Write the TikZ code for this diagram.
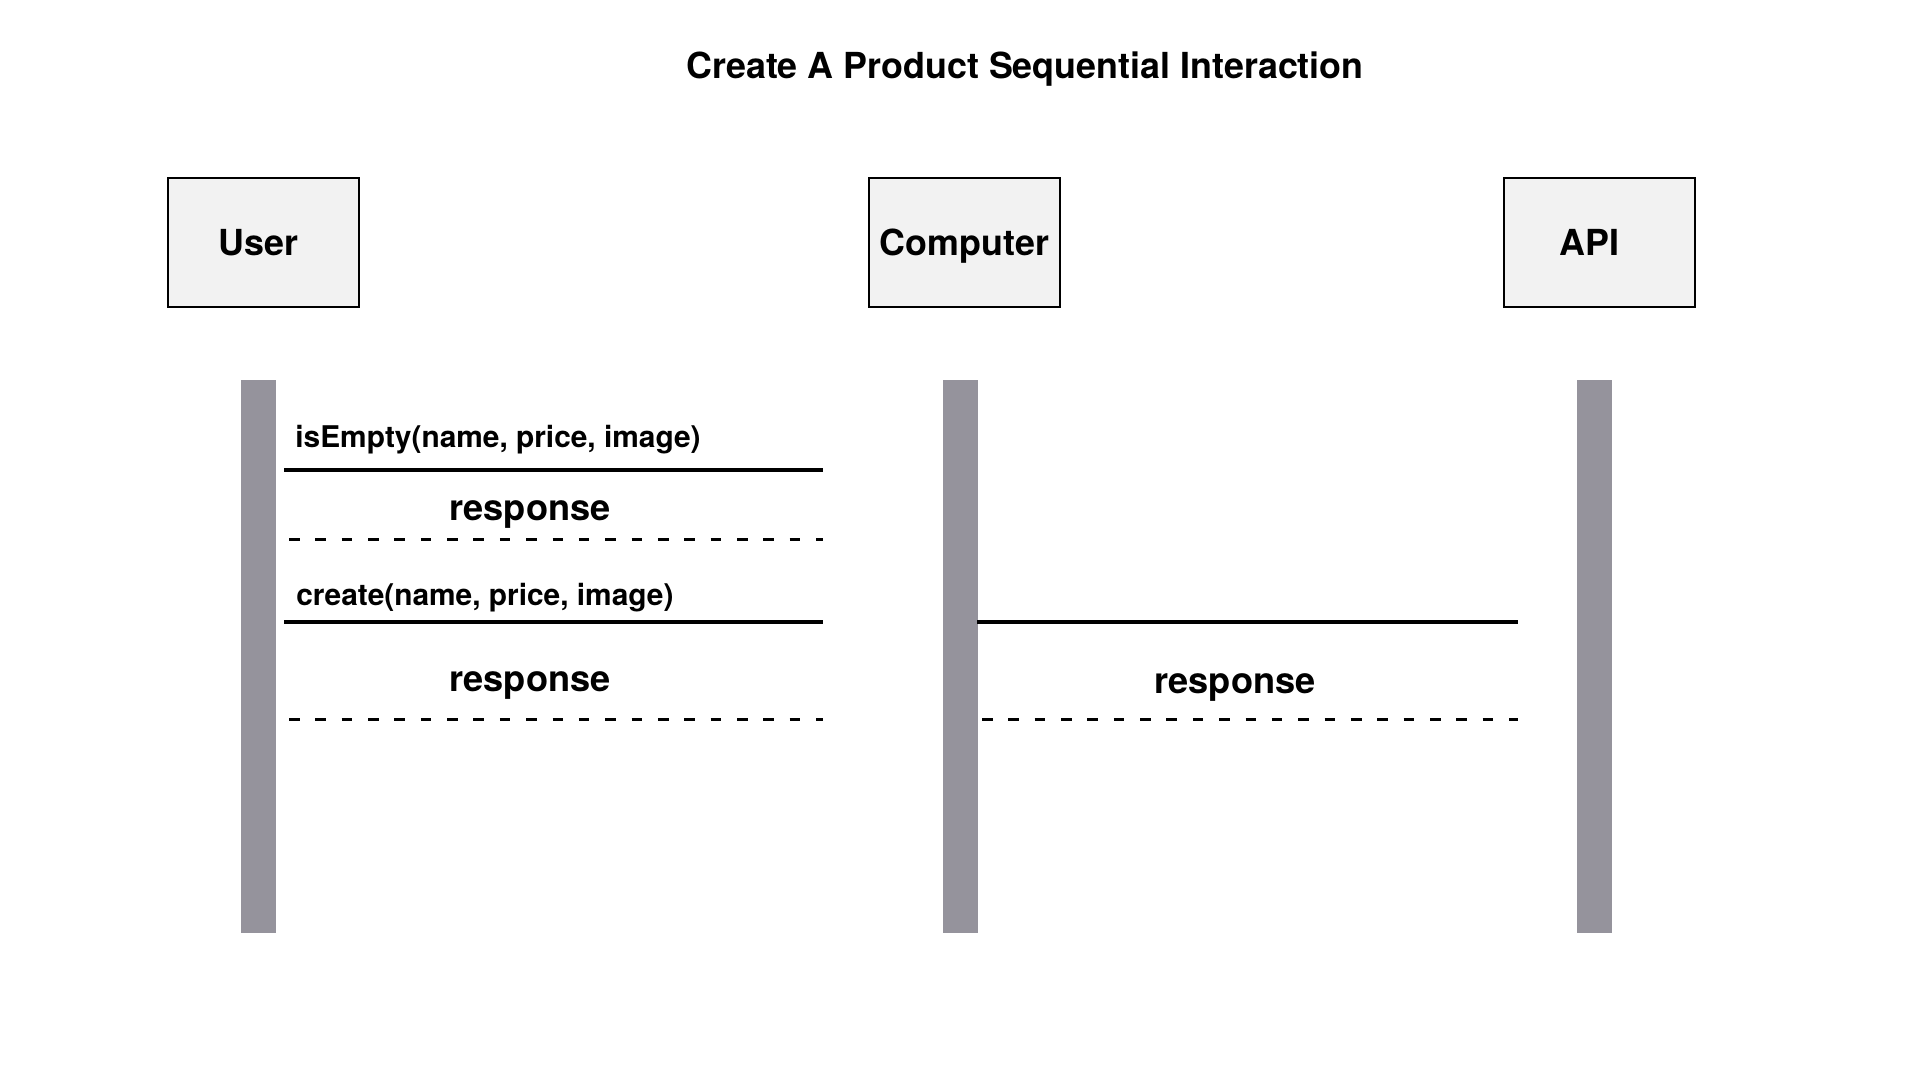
\documentclass[tikz,border=0pt]{standalone}
\usepackage{fontspec}
\setmainfont{TeX Gyre Heros}
\usetikzlibrary{positioning}
\definecolor{boxgray}{HTML}{F2F2F2}
\definecolor{lifegray}{HTML}{95939C}
\tikzset{actor/.style={draw,line width=1.4pt,fill=boxgray,minimum width=3.82cm,minimum height=2.58cm,text height=14.7pt,text depth=0pt,font=\fontsize{20.4}{24}\selectfont\bfseries}}
\tikzset{lifeline/.style={fill=lifegray,minimum width=0.7cm,minimum height=11.06cm,inner sep=0}}
\tikzset{call/.style={draw,line width=1.9pt}}
\tikzset{reply/.style={call,line width=1.7pt,dash pattern=on 6pt off 9pt}}
\tikzset{msg/.style={anchor=west,inner sep=0,font=\fontsize{17}{20}\selectfont\bfseries}}
\tikzset{resp/.style={inner sep=0,font=\fontsize{20.6}{24}\selectfont\bfseries}}

\begin{document}
\begin{tikzpicture}[x=0.02cm,y=-0.02cm]
    \useasboundingbox (0,0) rectangle (1920,1080);

    \node[font=\fontsize{20.4}{24}\selectfont\bfseries] (title) at (1025,69) {Create A Product Sequential Interaction};

    \node[actor] (user) at (263.5,242.5) {\hspace*{-5.5pt}User};
    \node[actor] (computer) at (964.5,242.5) {Computer};
    \node[actor] (api) at (1599.5,242.5) {\hspace*{-11pt}API};

     \node[lifeline] (userbar) at (258.5,656.5) {};
     \node[lifeline] (computerbar) at (960.5,656.5) {};
     \node[lifeline] (apibar) at (1594.5,656.5) {};

     \coordinate (empty1) at (284,470);
     \coordinate (empty2) at (823,470);
     \coordinate (back1) at (289,539);
     \coordinate (back2) at (823,539);
     \coordinate (create1) at (284,622);
     \coordinate (create2) at (823,622);
     \coordinate (post1) at (977,622);
     \coordinate (post2) at (1518,622);
     \coordinate (done1) at (289,719);
     \coordinate (done2) at (823,719);
     \coordinate (saved1) at (982,719);
     \coordinate (saved2) at (1518,719);

     \node[msg] (m1) at (295,440) {isEmpty(name, price, image)};
     \node[resp] (r1) at (530,514) {response};
     \node[msg] (m2) at (296,598) {create(name, price, image)};
     \node[resp] (r2) at (530,685) {response};
     \node[resp] (r3) at (1235,687) {response};

        \path[call] (empty1) -- (empty2);
        \path[reply] (back1) -- (back2);
        \path[call] (create1) -- (create2);
        \path[call] (post1) -- (post2);
        \path[reply] (done1) -- (done2);
        \path[reply] (saved1) -- (saved2);
  \end{tikzpicture}
\end{document}
